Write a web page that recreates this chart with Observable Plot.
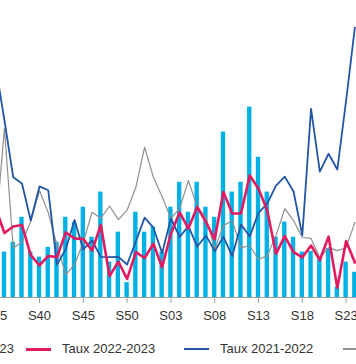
<!DOCTYPE html>
<html><head><meta charset="utf-8">
<script src="https://cdn.jsdelivr.net/npm/d3@7"></script>
<script src="https://cdn.jsdelivr.net/npm/@observablehq/plot@0.6"></script>
<style>
html,body{margin:0;padding:0;background:#fff;overflow:hidden;width:356px;height:364px;}
#chart{position:absolute;left:0;top:0;}
.legend{position:absolute;left:0;top:340px;height:18px;width:356px;font:13px "Liberation Sans",Arial,sans-serif;color:#333;}
.item{position:absolute;top:0;height:18px;line-height:18px;white-space:nowrap;display:flex;align-items:center;}
.sw{display:inline-block;width:25px;margin-right:11px;}
</style></head><body>
<div id="chart"></div>
<div class="legend" id="legend"></div>
<script>
const weeks = ["S35","S36","S37","S38","S39","S40","S41","S42","S43","S44","S45","S46","S47","S48","S49","S50","S51","S52",
  "S01","S02","S03","S04","S05","S06","S07","S08","S09","S10","S11","S12","S13","S14","S15","S16","S17","S18","S19","S20","S21","S22","S23","S24"];
const cases2223 = [null,15.3,18.6,27.0,15.3,13.6,16.9,18.6,27.0,25.3,30.4,20.3,35.5,11.9,22.0,5.0,28.7,22.0,
  23.7,15.3,30.4,38.8,28.7,38.8,30.4,27.0,55.7,35.5,38.8,64.1,47.2,35.5,20.3,25.4,20.3,15.3,15.5,13.5,16.5,3.5,11.9,8.5];
const taux2223 = [30.0,21.7,23.9,24.4,14.3,10.8,14.0,13.6,21.9,19.9,19.7,15.8,24.4,7.2,12.1,6.3,15.3,13.3,
  18.1,10.2,21.5,28.7,23.2,30.5,25.4,19.6,35.5,28.3,28.3,41.1,36.6,29.3,14.7,20.7,15.3,13.5,17.5,12.6,20.5,3.3,19.0,11.8];
const taux2122 = [77.8,59.6,40.5,38.4,25.9,37.4,36.1,11.1,16.3,26.1,16.2,19.2,13.7,13.6,13.7,11.1,18.9,26.9,
  23.5,15.0,26.6,20.4,24.0,17.1,20.9,15.6,20.5,13.9,24.6,20.6,28.5,31.6,37.7,40.7,35.7,20.9,63.5,42.4,48.4,43.1,66.3,90.9];
const taux2021 = [22.6,56.9,16.7,18.6,25.6,36.0,28.5,17.5,7.7,11.1,18.6,28.7,26.7,30.8,26.2,29.4,37.1,50.6,
  40.5,33.9,26.6,30.0,39.4,30.6,27.0,16.2,24.2,25.9,16.7,17.5,12.8,14.1,20.9,29.9,25.9,20.2,19.9,13.3,16.8,15.8,16.7,25.3];
const tickWeeks = ["S35","S40","S45","S50","S03","S08","S13","S18","S23"];
const seriesNames = ["Nombre de cas 2022-2023","Taux 2022-2023","Taux 2021-2022","Taux 2020-2021"];
const colors = ["#00b1e5","#e5195f","#2356a6","#909090"];

const data = weeks.map((w,i)=>({i, w, c: cases2223[i], r: taux2223[i], b: taux2122[i], g: taux2021[i]}));
const n = weeks.length;
const chart = Plot.plot({
  width: 356, height: 330,
  marginTop: 0, marginRight: 0, marginBottom: 33, marginLeft: 0,
  style: {fontFamily: '"Liberation Sans", Arial, sans-serif', fontSize: "13px", color: "#333", background: "white", overflow: "hidden"},
  x: {type: "linear", domain: [0, n - 1], range: [-4.8, -4.8 + 8.76 * (n - 1)], label: null},
  y: {domain: [0, 100], axis: null},
  marks: [
    Plot.rectY(data.filter(d => d.c != null), {x1: d => d.i - 0.5, x2: d => d.i + 0.5, y: "c", insetLeft: 2.2, insetRight: 2.2, fill: colors[0]}),
    Plot.lineY(data, {x: "i", y: "g", stroke: colors[3], strokeWidth: 1.2}),
    Plot.lineY(data, {x: "i", y: "b", stroke: colors[2], strokeWidth: 1.8}),
    Plot.lineY(data, {x: "i", y: "r", stroke: colors[1], strokeWidth: 2.6}),
    Plot.ruleY([0], {stroke: "#a0a0a0"}),
    Plot.axisX({ticks: tickWeeks.map(t => weeks.indexOf(t)), tickFormat: i => weeks[i], tickSize: 6, tickPadding: 7, stroke: "#a0a0a0", fill: "#333", label: null})
  ]
});
document.getElementById("chart").appendChild(chart);

const legend = document.getElementById("legend");
const pos = [{right: 342}, {left: 26}, {left: 184}, {left: 343}];
const thick = [0, 3, 2, 1.5];
seriesNames.forEach((name, k) => {
  const it = document.createElement("div");
  it.className = "item";
  if (pos[k].left != null) it.style.left = pos[k].left + "px"; else it.style.right = pos[k].right + "px";
  const sw = document.createElement("span");
  sw.className = "sw";
  if (k === 0) { sw.style.width = "12px"; sw.style.height = "12px"; sw.style.background = colors[0]; }
  else { sw.style.height = thick[k] + "px"; sw.style.background = colors[k]; }
  const tx = document.createElement("span");
  tx.textContent = name;
  it.appendChild(sw); it.appendChild(tx);
  legend.appendChild(it);
});
</script>
</body></html>
